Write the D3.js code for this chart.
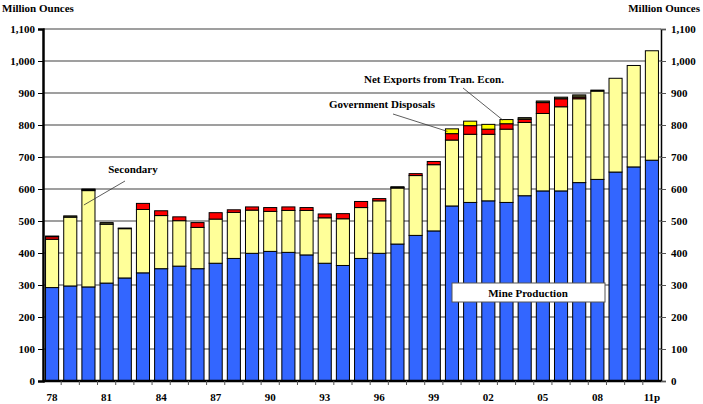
<!DOCTYPE html>
<html>
<head>
<meta charset="utf-8">
<script src="https://cdn.jsdelivr.net/npm/d3@7"></script>
<style>
  body { margin: 0; background: #fff; }
  text { font-family: "Liberation Serif", "Times New Roman", serif; font-weight: bold; fill: #000; }
</style>
</head>
<body>
<div id="chart"></div>
<script>
// year labels, 1978 .. 2011 (p = projected)
let years = ["78","79","80","81","82","83","84","85","86","87","88","89","90","91","92","93","94",
  "95","96","97","98","99","00","01","02","03","04","05","06","07","08","09","10","11p"];

// million ounces, stacked bottom to top
let mine = [292,297,294,306,322,338,351,359,351,368,383,399,405,402,394,368,361,
  383,399,428,455,469,547,558,563,558,579,594,594,620,630,653,669,690];
let secondary = [151,215,301,184,154,198,166,142,129,138,144,135,125,131,139,142,146,
  159,164,175,187,207,206,213,208,229,229,242,263,262,276,293,317,342];
let govDisposals = [8,0,3,0,0,19,15,12,15,20,8,10,12,11,9,12,16,
  19,7,2,6,10,20,27,16,17,10,34,25,5,0,0,0,0];
let netExports = [0,0,0,0,0,0,0,0,0,0,0,0,0,0,0,0,0,
  0,0,0,0,0,15,14,15,13,0,0,0,0,0,0,0,0];
let hedging = [2,4,2,5,2,0,0,0,0,0,0,0,0,0,0,0,0,
  0,0,2,0,0,0,0,0,0,5,5,5,7,3,0,0,0];

let yTicks = [0,100,200,300,400,500,600,700,800,900,1000,1100];

let svgWidth = 703;
let svgHeight = 404;
let margin = { top: 29, right: 42, bottom: 23, left: 43 };
let width = svgWidth - margin.left - margin.right;
let height = svgHeight - margin.top - margin.bottom;

let svg = d3.select("#chart").append("svg")
  .attr("width", svgWidth)
  .attr("height", svgHeight);

let chartGroup = svg.append("g")
  .attr("transform", `translate(${margin.left}, ${margin.top})`);

let rows = years.map((y, i) => ({
  year: y,
  mine: mine[i],
  secondary: secondary[i],
  gov: govDisposals[i],
  netExports: netExports[i],
  hedging: hedging[i]
}));

let keys = ["mine", "secondary", "gov", "netExports", "hedging"];
let colors = {
  mine: "#3366ff",
  secondary: "#ffff99",
  gov: "#ff0000",
  netExports: "#ffff00",
  hedging: "#5c5c2e"
};

let x = d3.scaleBand().domain(years).range([0, width]).paddingInner(0.28).paddingOuter(0.14);
let y = d3.scaleLinear().domain([0, 1100]).range([height, 0]);

// gridlines
chartGroup.append("g")
  .selectAll("line")
  .data(yTicks.filter(d => d > 0))
  .enter().append("line")
  .attr("x1", 0).attr("x2", width)
  .attr("y1", d => y(d)).attr("y2", d => y(d))
  .attr("stroke", "#7f7f7f")
  .attr("stroke-width", 1.5);

// stacked bars
let stacked = d3.stack().keys(keys)(rows);

chartGroup.append("g")
  .selectAll("g")
  .data(stacked)
  .enter().append("g")
  .attr("fill", d => colors[d.key])
  .selectAll("rect")
  .data(d => d.filter(s => s[1] - s[0] > 0))
  .enter().append("rect")
  .attr("x", d => x(d.data.year))
  .attr("y", d => y(d[1]))
  .attr("width", x.bandwidth())
  .attr("height", d => y(d[0]) - y(d[1]))
  .attr("stroke", "#000")
  .attr("stroke-width", 1);

// left axis
let leftAxis = d3.axisLeft(y).tickValues(yTicks).tickFormat(d3.format(",")).tickSize(5).tickPadding(3);
let gl = chartGroup.append("g").call(leftAxis);
gl.select(".domain").attr("stroke-width", 2.5);
gl.selectAll("text").style("font-size", "11px");

// right axis
let rightAxis = d3.axisRight(y).tickValues(yTicks).tickFormat(d3.format(",")).tickSize(5).tickPadding(5);
let gr = chartGroup.append("g").attr("transform", `translate(${width},0)`).call(rightAxis);
gr.select(".domain").attr("stroke-width", 1.5);
gr.selectAll("line").attr("stroke", "#555");
gr.selectAll("text").style("font-size", "11px");

// bottom axis: ticks at every category boundary, labels every third year
let gb = chartGroup.append("g").attr("transform", `translate(0, ${height})`);
gb.append("line").attr("x1", 0).attr("x2", width).attr("stroke", "#000").attr("stroke-width", 2.5);
let step = x.step();
gb.selectAll("line.tk")
  .data(d3.range(1, years.length))
  .enter().append("line")
  .attr("class", "tk")
  .attr("x1", d => x(years[d]) - (step - x.bandwidth()) / 2)
  .attr("x2", d => x(years[d]) - (step - x.bandwidth()) / 2)
  .attr("y1", 0).attr("y2", 4)
  .attr("stroke", "#555");
gb.selectAll("text")
  .data(years.filter((d, i) => i % 3 === 0))
  .enter().append("text")
  .attr("x", d => x(d) + x.bandwidth() / 2)
  .attr("y", 20)
  .attr("text-anchor", "middle")
  .style("font-size", "11px")
  .text(d => d);

// unit labels
svg.append("text").attr("x", 2).attr("y", 12).style("font-size", "11px").text("Million Ounces");
svg.append("text").attr("x", 700).attr("y", 12).attr("text-anchor", "end").style("font-size", "11px").text("Million Ounces");

// annotations
function note(label, tx, ty, lx1, ly1, year, value, dx) {
  chartGroup.append("line")
    .attr("x1", lx1 - margin.left).attr("y1", ly1 - margin.top)
    .attr("x2", x(year) + dx).attr("y2", y(value))
    .attr("stroke", "#333").attr("stroke-width", 0.8);
  svg.append("text").attr("x", tx).attr("y", ty)
    .attr("text-anchor", "middle").style("font-size", "11px").text(label);
}
note("Secondary", 133, 173, 125, 181, "80", 550, 2);
note("Government Disposals", 382, 108, 393, 114, "00", 780, 2);
note("Net Exports from Tran. Econ.", 434, 83, 463, 88, "03", 815, 3);

// mine production box
chartGroup.append("rect")
  .attr("x", 452 - margin.left).attr("y", 283 - margin.top)
  .attr("width", 153).attr("height", 19)
  .attr("fill", "#fff").attr("stroke", "#555").attr("stroke-width", 1);
svg.append("text").attr("x", 528).attr("y", 296.5)
  .attr("text-anchor", "middle").style("font-size", "11px").text("Mine Production");
</script>
</body>
</html>
